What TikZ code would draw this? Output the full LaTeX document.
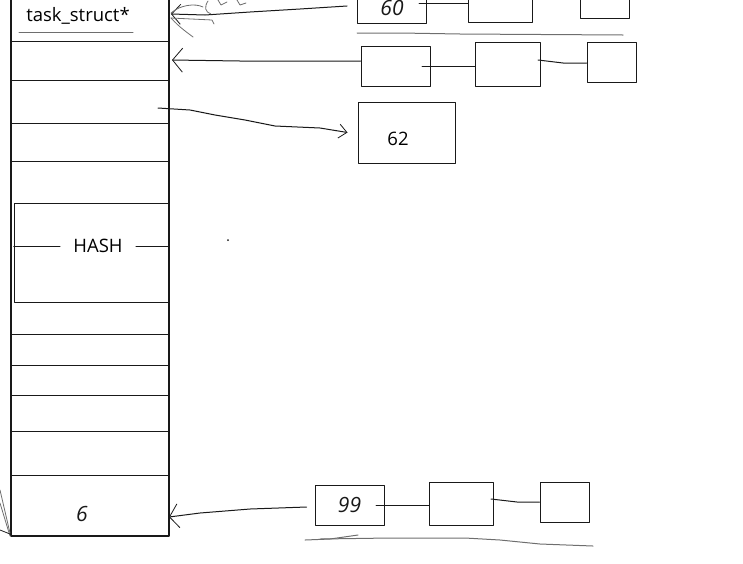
\documentclass[tikz,border=0pt]{standalone}
\usepackage{fontspec}
\setmainfont{Open Sans}
\usetikzlibrary{arrows.meta}
\definecolor{penline}{RGB}{25,25,25}
\definecolor{pengray}{RGB}{110,110,110}

\begin{document}
\begin{tikzpicture}[x=1pt,y=-1pt,line cap=round,line join=round,
    listbox/.style={draw=penline,line width=1pt,inner sep=0pt},
    hand/.style={penline,line width=1pt},
    lbl/.style={font=\fontsize{18.5}{20}\selectfont},
    scrawl/.style={font=\fontsize{21}{22}\selectfont\itshape,text=penline}]
    \useasboundingbox (0,0) rectangle (743,563);

    % Columna de la tabla
    \coordinate (colNW) at (11,-2);
    \coordinate (colSE) at (169,536);
    \draw[line width=1.2pt,penline] (colNW) rectangle (colSE);
    \foreach \yy in {41,80,123,161,334,365,395,431,475}
        \draw[line width=1pt,penline] (11,\yy) -- (169,\yy);

    % Cabecera
    \node[lbl] (head) at (78,16) {task\_struct*};
    \draw[pengray,line width=1pt] (19,32) -- (133,32);

    % Celda HASH
    \node[listbox,minimum width=154pt,minimum height=99pt] (hash) at (91,252.5) {};
    \node[lbl,inner xsep=13pt] (hashlbl) at (98,246) {HASH};
    \draw[penline] (hash.west |- hashlbl) -- (hashlbl.west);
    \draw[penline] (hashlbl.east) -- (hash.east |- hashlbl);
    \node[scrawl] (six) at (82,514) {6};
    \fill[penline] (228,240) circle (1pt);

    % Primera lista (cortada arriba)
    \node[listbox,minimum width=69pt,minimum height=30pt,scrawl] (r1a) at (392,8) {60};
    \node[listbox,minimum width=64pt,minimum height=30pt] (r1b) at (500,7) {};
    \node[listbox,minimum width=49pt,minimum height=28pt] (r1c) at (604.5,4) {};
    \coordinate (r1aout) at (419,3);
    \draw[hand] (r1aout) -- (r1aout -| r1b.west);
    \draw[pengray,line width=1pt] (357,33) -- (400,33) -- (460,34) -- (623,35);

    % Segunda lista
    \node[listbox,minimum width=69pt,minimum height=40pt] (r2a) at (395.5,66) {};
    \node[listbox,minimum width=65pt,minimum height=44pt] (r2b) at (507.5,64) {};
    \node[listbox,minimum width=49pt,minimum height=40pt] (r2c) at (611.5,62) {};
    \coordinate (r2aout) at (422,66);
    \draw[hand] (r2aout) -- (r2aout -| r2b.west);
    \draw[hand] (538,60) -- (563,63) -- (r2c.west |- 0,63);

    % Nodo suelto
    \node[listbox,minimum width=97pt,minimum height=61pt] (n62) at (406.5,132.5) {};
    \node[lbl] (n62lbl) at (398,139) {62};

    % Lista inferior
    \node[listbox,minimum width=69pt,minimum height=40pt,scrawl] (r3a) at (349.5,505) {99};
    \node[listbox,minimum width=64pt,minimum height=43pt] (r3b) at (461,503.5) {};
    \node[listbox,minimum width=49pt,minimum height=40pt] (r3c) at (564.5,502) {};
    \coordinate (r3aout) at (376,505);
    \draw[hand] (r3aout) -- (r3aout -| r3b.west);
    \draw[hand] (491,499) -- (517,502) -- (r3c.west |- 0,502);
    \draw[pengray,line width=1pt] (305,540) -- (330,539) -- (358,535);
    \draw[pengray,line width=1pt] (320,539) -- (390,538) -- (465,538)
        -- (500,540) -- (540,544) -- (593,546);

    % Flechas hacia la tabla
    \coordinate (tipA) at (171,14);
    \coordinate (tailA) at (347,6);
    \draw[hand,-{Straight Barb[length=9pt,width=20pt,line width=0.8pt]}]
        (tailA) -- (300,9) -- (250,12) -- (205,15) -- (tipA);
    \draw[pengray,line width=0.8pt] (171,13) .. controls (180,5) and (195,3) .. (203,7);
    \draw[pengray,line width=0.8pt] (208,1) .. controls (204,7) and (205,12) .. (211,14);
    \draw[pengray,line width=0.8pt] (218,0) -- (221,5) -- (227,2);
    \draw[pengray,line width=0.8pt] (237,0) -- (240,5) -- (246,3);
    \draw[pengray,line width=0.8pt] (171,18) -- (212,20) -- (214,24);
    \draw[pengray,line width=0.8pt] (171,18) .. controls (180,28) and (188,33) .. (193,37);

    \coordinate (tipB) at (172,60);
    \coordinate (tailB) at (r2a.west |- 0,61);
    \draw[hand,-{Straight Barb[length=10pt,width=24pt,line width=0.8pt]}]
        (tailB) -- (240,61) -- (tipB);

    \coordinate (tailC) at (158,108);
    \coordinate (tipC) at ([xshift=-10pt]n62.west);
    \draw[hand,-{Straight Barb[length=8pt,width=14pt,line width=0.8pt]}]
        (tailC) -- (190,110) -- (215,115) -- (245,120) -- (275,126)
        -- (320,128) -- (tipC);

    \coordinate (tailD) at ([xshift=-8pt]r3a.west |- 0,507);
    \coordinate (tipD) at (169,517);
    \draw[hand,-{Straight Barb[length=9pt,width=24pt,line width=0.8pt]}]
        (tailD) -- (250,509) -- (200,513) -- (tipD);

    % Trazos sueltos abajo a la izquierda
    \draw[pengray,line width=0.8pt] (0,490) -- (10,533);
    \draw[pengray,line width=0.8pt] (0,503) -- (10,536);
    \draw[penline,line width=0.8pt] (0,530) -- (10,534);
\end{tikzpicture}
\end{document}
